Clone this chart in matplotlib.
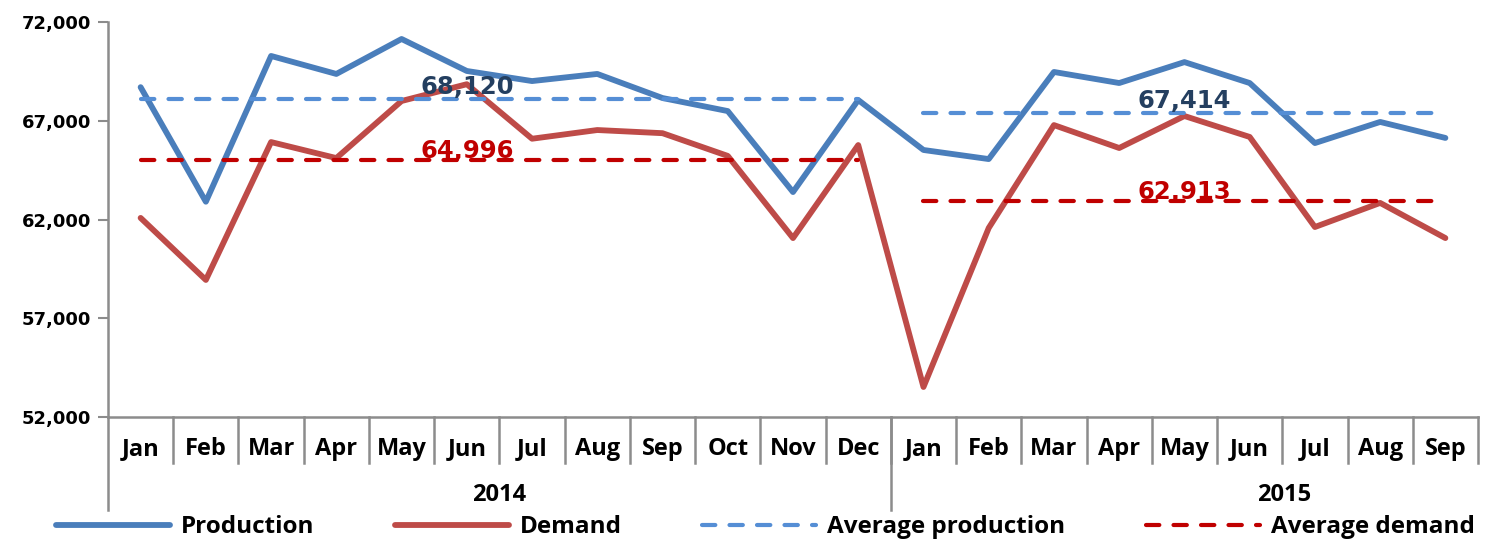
import matplotlib
matplotlib.use("Agg")
import matplotlib.pyplot as plt
from matplotlib.lines import Line2D

months = ["Jan", "Feb", "Mar", "Apr", "May", "Jun", "Jul", "Aug", "Sep", "Oct", "Nov", "Dec",
          "Jan", "Feb", "Mar", "Apr", "May", "Jun", "Jul", "Aug", "Sep"]
years = ["2014", "2015"]
year_counts = [12, 9]

production = [68700, 62900, 70280, 69370, 71140, 69520, 69010, 69370, 68150, 67490, 63390, 68050,
              65520, 65060, 69470, 68910, 69970, 68910, 65870, 66940, 66130]
demand = [62080, 58940, 65920, 65110, 68000, 68850, 66090, 66530, 66370, 65220, 61060, 65770,
          53520, 61570, 66780, 65620, 67240, 66180, 61620, 62840, 61060]
avg_production = [68120, 67414]
avg_demand = [64996, 62913]

C_PROD = "#4A7EBB"
C_DEM = "#BE4B48"
C_AVGP = "#558ED5"
C_AVGD = "#C00000"
GRID = "#8C8C8C"
MONTH_FONT = ["Open Sans", "DejaVu Sans"]

fig = plt.figure(figsize=(14.89, 5.42), dpi=100)
ax = fig.add_axes([108 / 1489, 1 - 417 / 542, (1478 - 108) / 1489, (417 - 22) / 542])

x = list(range(len(months)))
ax.plot(x, production, color=C_PROD, lw=4.2, solid_joinstyle="round", solid_capstyle="round",
        label="Production", zorder=3)
ax.plot(x, demand, color=C_DEM, lw=4.2, solid_joinstyle="round", solid_capstyle="round",
        label="Demand", zorder=3)

dash = (0, (3.2, 3.4))
start = 0
for i, n in enumerate(year_counts):
    xs = [start, start + n - 1]
    ax.plot(xs, [avg_production[i]] * 2, color=C_AVGP, lw=3, ls=dash, dash_capstyle="round",
            label="Average production" if i == 0 else None, zorder=4)
    ax.plot(xs, [avg_demand[i]] * 2, color=C_AVGD, lw=3, ls=dash, dash_capstyle="round",
            label="Average demand" if i == 0 else None, zorder=4)
    start += n

# value labels for averages
label_pos = [5, 16]
for i, xi in enumerate(label_pos):
    ax.annotate(f"{avg_production[i]:,}", (xi, avg_production[i]), xytext=(0, 0),
                textcoords="offset points", ha="center", va="bottom",
                fontsize=17.5, fontweight="bold", color="#243F60", zorder=5)
    ax.annotate(f"{avg_demand[i]:,}", (xi, avg_demand[i]), xytext=(0, -2),
                textcoords="offset points", ha="center", va="bottom",
                fontsize=17.5, fontweight="bold", color=C_AVGD, zorder=5)

ax.set_xlim(-0.5, len(months) - 0.5)
ax.set_ylim(52000, 72000)
ax.set_yticks(range(52000, 72001, 5000))
ax.set_yticklabels([f"{v:,}" for v in range(52000, 72001, 5000)], fontsize=13, fontweight="bold")
ax.tick_params(axis="y", length=7, width=1.5, color=GRID, pad=5)
ax.set_xticks([])

for s in ["top", "right"]:
    ax.spines[s].set_visible(False)
for s in ["left", "bottom"]:
    ax.spines[s].set_color(GRID)
    ax.spines[s].set_linewidth(1.8)

# two-level category axis
trans = ax.get_xaxis_transform()
month_sep = 46 / 395
year_sep = 93 / 395
for i, m in enumerate(months):
    ax.text(i, -32 / 395, m, transform=trans, ha="center", va="center",
            fontsize=17, fontweight="bold", family=MONTH_FONT)
for b in range(1, len(months) + 1):
    ax.add_line(Line2D([b - 0.5, b - 0.5], [0, -month_sep], transform=trans, color=GRID,
                       lw=1.8, clip_on=False))
start = 0
for yr, n in zip(years, year_counts):
    ax.add_line(Line2D([start - 0.5, start - 0.5], [0, -year_sep], transform=trans, color=GRID,
                       lw=1.8, clip_on=False))
    start += n
ax.text(5.5, -78 / 395, years[0], transform=trans, ha="center", va="center",
        fontsize=17, fontweight="bold", family=MONTH_FONT)
ax.text(17.53, -78 / 395, years[1], transform=trans, ha="center", va="center",
        fontsize=17, fontweight="bold", family=MONTH_FONT)

leg = fig.legend(loc="lower center", bbox_to_anchor=(0.514, -0.035), ncol=4, frameon=False,
                 handlelength=4.7, handletextpad=0.45, columnspacing=3.3,
                 prop={"family": MONTH_FONT, "weight": "bold", "size": 17.5})
for h in leg.get_lines():
    h.set_solid_capstyle("round")

fig.savefig("out.png", dpi=100)
